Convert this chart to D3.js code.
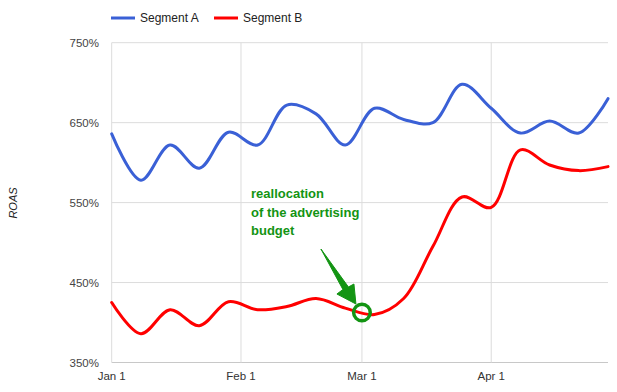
<!DOCTYPE html>
<html>
<head>
<meta charset="utf-8">
<script src="https://cdn.jsdelivr.net/npm/d3@7"></script>
<style>
  html, body { margin: 0; padding: 0; background: #fff; }
  svg { display: block; font-family: Arial, "Liberation Sans", sans-serif; }
</style>
</head>
<body>
<svg id="chart" width="617" height="392"></svg>
<script>
// ---- data (weekly points) ----
const dates = ["2012-01-01","2012-01-08","2012-01-15","2012-01-22","2012-01-29","2012-02-05",
               "2012-02-12","2012-02-19","2012-02-26","2012-03-04","2012-03-11","2012-03-18",
               "2012-03-25","2012-04-01","2012-04-08","2012-04-15","2012-04-22","2012-04-29"];
const segmentA = [636, 578, 622, 593, 638, 622, 672, 661, 622, 668, 654, 650, 698, 668, 637, 652, 637, 680];
const segmentB = [425, 386, 416, 396, 426, 416, 420, 430, 418, 410, 430, 495, 557, 544, 616, 597, 590, 595];
const seriesNames = ["Segment A", "Segment B"];
const seriesColors = ["#3a60d6", "#ff0000"];
const yTicks = [350, 450, 550, 650, 750];
const xTickDates = ["2012-01-01", "2012-02-01", "2012-03-01", "2012-04-01"];
const xTickLabels = ["Jan 1", "Feb 1", "Mar 1", "Apr 1"];
const annotationLines = ["reallocation", "of the advertising", "budget"];
const annotationDate = "2012-03-01";
const yLabel = "ROAS";

(function () {
const parse = d3.timeParse("%Y-%m-%d");
const svg = d3.select("#chart");

const pL = 111.7, pR = 608, pT = 42.7, pB = 362.5;
const x = d3.scaleTime().domain([parse(dates[0]), parse(dates[dates.length - 1])]).range([pL, pR]);
const y = d3.scaleLinear().domain([350, 750]).range([pB, pT]);

// gridlines horizontal
svg.append("g").selectAll("line").data(yTicks).join("line")
  .attr("x1", pL).attr("x2", pR)
  .attr("y1", d => y(d)).attr("y2", d => y(d))
  .attr("stroke", d => d === 350 ? "#c8c8c8" : "#dcdcdc").attr("stroke-width", 1);
// gridlines vertical
svg.append("g").selectAll("line").data(xTickDates).join("line")
  .attr("x1", d => x(parse(d))).attr("x2", d => x(parse(d)))
  .attr("y1", pT).attr("y2", pB)
  .attr("stroke", "#dcdcdc").attr("stroke-width", 1);

// y tick labels
svg.append("g").selectAll("text").data(yTicks).join("text")
  .attr("x", 99).attr("y", d => y(d)).attr("dy", "0.35em")
  .attr("text-anchor", "end").attr("font-size", "11.5px").attr("fill", "#444")
  .text(d => d + "%");

// x tick labels
svg.append("g").selectAll("text").data(xTickDates).join("text")
  .attr("x", d => x(parse(d))).attr("y", 380)
  .attr("text-anchor", "middle").attr("font-size", "11.5px").attr("fill", "#333")
  .text((d, i) => xTickLabels[i]);

// y axis label
svg.append("text")
  .attr("transform", "translate(17,203) rotate(-90)")
  .attr("text-anchor", "middle").attr("font-size", "11px").attr("font-style", "italic").attr("fill", "#222")
  .text(yLabel);

// lines
const line = d3.line().x((d, i) => x(parse(dates[i]))).y(d => y(d)).curve(d3.curveCatmullRom.alpha(0.5));
[segmentA, segmentB].forEach((s, k) => {
  svg.append("path").attr("d", line(s)).attr("fill", "none")
    .attr("stroke", seriesColors[k]).attr("stroke-width", 3)
    .attr("stroke-linejoin", "round").attr("stroke-linecap", "round");
});

// legend
const legendX = [111, 214];
seriesNames.forEach((n, k) => {
  svg.append("line").attr("x1", legendX[k]).attr("x2", legendX[k] + 24)
    .attr("y1", 18).attr("y2", 18).attr("stroke", seriesColors[k]).attr("stroke-width", 3);
  svg.append("text").attr("x", legendX[k] + 29).attr("y", 18).attr("dy", "0.35em")
    .attr("font-size", "12px").attr("fill", "#222").text(n);
});

// annotation
const green = "#139413";
const ann = svg.append("g");
annotationLines.forEach((t, i) => {
  ann.append("text").attr("x", 251).attr("y", 198 + i * 18.5)
    .attr("font-size", "13px").attr("font-weight", "bold").attr("fill", green).text(t);
});
const ax = x(parse(annotationDate));
// circle on the red line around Mar 1
ann.append("circle").attr("cx", ax).attr("cy", 312.5).attr("r", 8.3)
  .attr("fill", "none").attr("stroke", green).attr("stroke-width", 3.5);
// arrow
ann.append("path")
  .attr("d", `M${ax-41},249 L${ax-13.5},287 L${ax-8},284 L${ax-6},304 L${ax-25},294 L${ax-19},289.5 Z`)
  .attr("fill", green).attr("stroke", green).attr("stroke-width", 1).attr("stroke-linejoin", "round");
})();
</script>
</body>
</html>
